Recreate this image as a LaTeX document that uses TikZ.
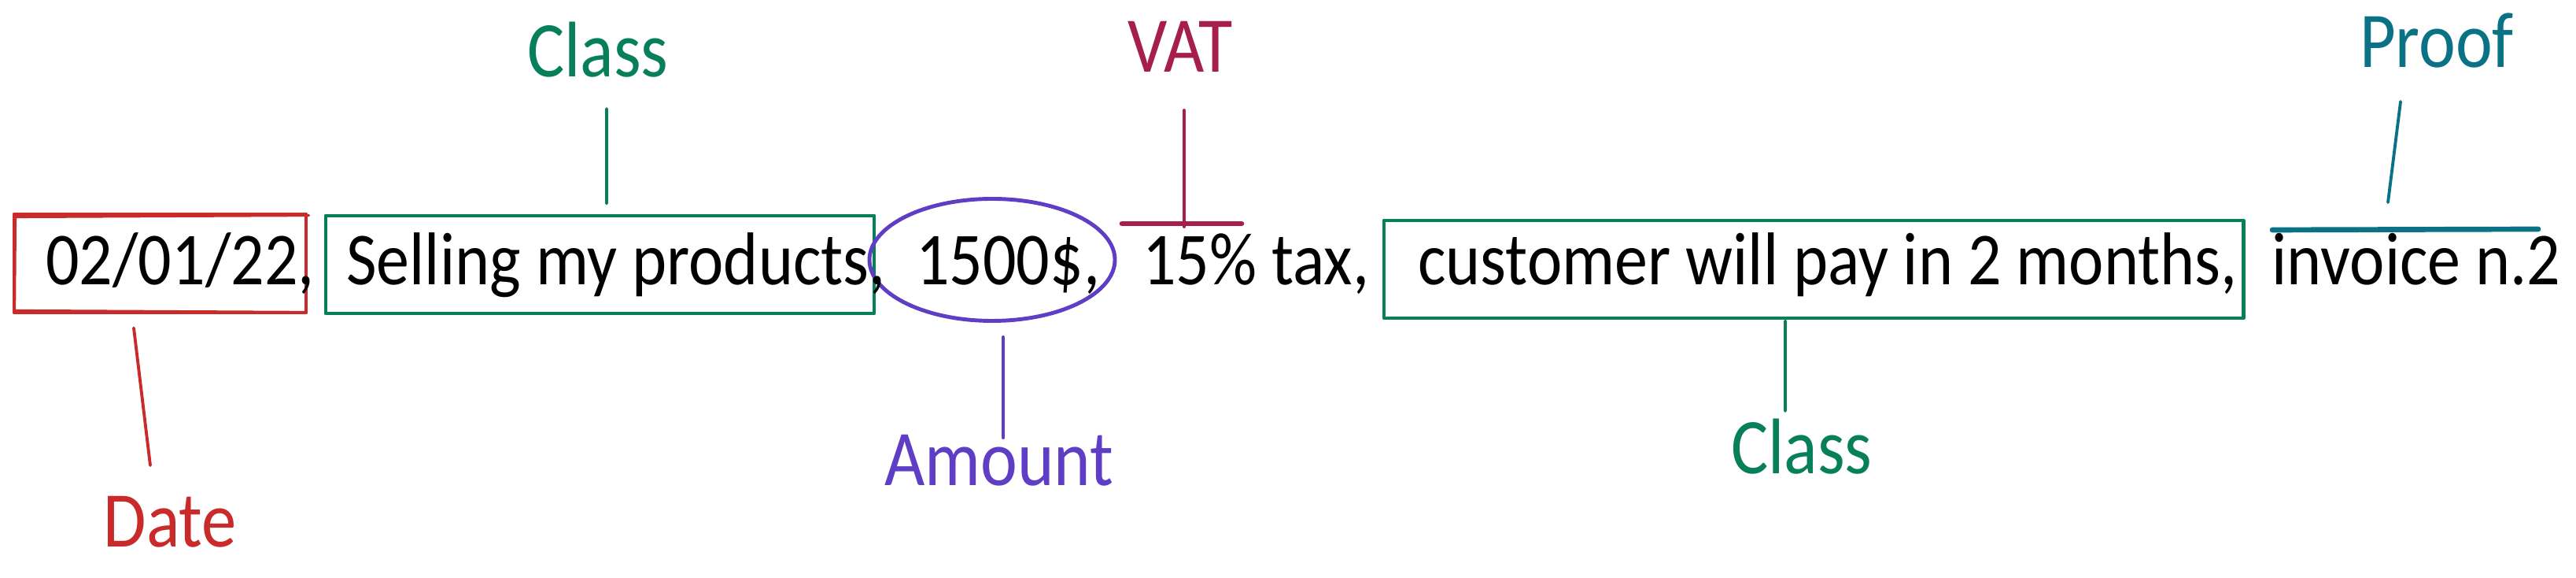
\documentclass[tikz,border=0pt]{standalone}
\usepackage{fontspec}
\setmainfont[FakeStretch=0.885]{Carlito}
\usetikzlibrary{calc,shapes.geometric}
\definecolor{xred}{HTML}{C92A2A}
\definecolor{xgreen}{HTML}{087F5B}
\definecolor{xviolet}{HTML}{5F3DC4}
\definecolor{xpink}{HTML}{A61E4D}
\definecolor{xcyan}{HTML}{0B7285}
\begin{document}
\begin{tikzpicture}[x=1cm,y=1cm,
  txt/.style={font=\fontsize{27}{32}\selectfont, inner sep=0pt, anchor=base, text=black},
  lbl/.style={txt, font=\fontsize{28.5}{34}\selectfont, text=#1},
  frame/.style={draw=#1, line width=1.4pt, inner sep=0pt, line join=round},
  conn/.style={draw=#1, line width=1.1pt, line cap=round},
  bar/.style={draw=#1, line width=1.9pt, line cap=round}]
\useasboundingbox (0,0) rectangle (32.74,7.34);

% marks round the parts of the line
\node[frame=xred, minimum width=3.71cm, minimum height=1.25cm] (datebox) at (2.035,3.995) {};
\draw[xred, line width=0.9pt, line cap=round] ($(datebox.north west)+(0.02,-0.06)$) -- ($(datebox.north east)+(0.01,-0.04)$)
  ($(datebox.south west)+(0.03,0.05)$) -- ($(datebox.south east)+(-0.02,0.03)$)
  ($(datebox.north west)+(0.04,-0.02)$) -- ($(datebox.south west)+(0.03,0.02)$);
\node[frame=xgreen, minimum width=6.97cm, minimum height=1.24cm] (sellbox) at (7.625,3.98) {};
\node[frame=xviolet, ellipse, minimum width=3.12cm, minimum height=1.55cm] (amountring) at (12.61,4.04) {};
\node[frame=xgreen, minimum width=10.92cm, minimum height=1.24cm] (custbox) at (23.05,3.92) {};

% the line of text
\node[txt] (tdate) at (2.29,3.72) {02/01/22,};
\node[txt] (tsell) at (7.83,3.72) {Selling my products,};
\node[txt] (tamount) at (12.81,3.72) {1500\$,};
\node[txt] (ttax) at (15.96,3.72) {15\% tax,};
\node[txt] (tcust) at (23.23,3.72) {customer will pay in 2 months,};
\node[txt] (tinv) at (30.71,3.72) {invoice n.2};

% labels
\node[lbl=xgreen] (lclassA) at (7.60,6.36) {Class};
\node[lbl=xpink] (lvat) at (15.00,6.42) {VAT};
\node[lbl=xcyan] (lproof) at (30.97,6.48) {Proof};
\node[lbl=xred] (ldate) at (2.16,0.39) {Date};
\node[lbl=xviolet] (lamount) at (12.70,1.17) {Amount};
\node[lbl=xgreen] (lclassB) at (22.90,1.32) {Class};

% T-marks over tax and invoice
\coordinate (vatbar) at (15.02,4.50);
\coordinate (proofbar) at (30.57,4.42);
\draw[bar=xpink] ($(vatbar)+(-0.76,0)$) -- ($(vatbar)+(0.76,0)$);
\draw[bar=xcyan] ($(proofbar)+(-1.69,0)$) -- ($(proofbar)+(1.69,0.01)$);

% connectors
\draw[conn=xgreen] ($(lclassA.base)+(0.11,-0.40)$) -- ($(sellbox.north)+(0.085,0.13)$);
\draw[conn=xpink] ($(lvat.base)+(0.05,-0.48)$) -- ($(vatbar)+(0.03,-0.04)$);
\draw[conn=xcyan] ($(lproof.base)+(-0.46,-0.43)$) -- ($(proofbar)+(-0.22,0.35)$);
\draw[conn=xred] ($(datebox.south)+(-0.335,-0.17)$) -- ($(ldate.base)+(-0.25,1.04)$);
\draw[conn=xviolet] ($(amountring.south)+(0.14,-0.18)$) -- ($(lamount.base)+(0.05,0.61)$);
\draw[conn=xgreen] ($(custbox.south)+(-0.36,-0.01)$) -- ($(lclassB.base)+(-0.21,0.80)$);
\end{tikzpicture}
\end{document}
